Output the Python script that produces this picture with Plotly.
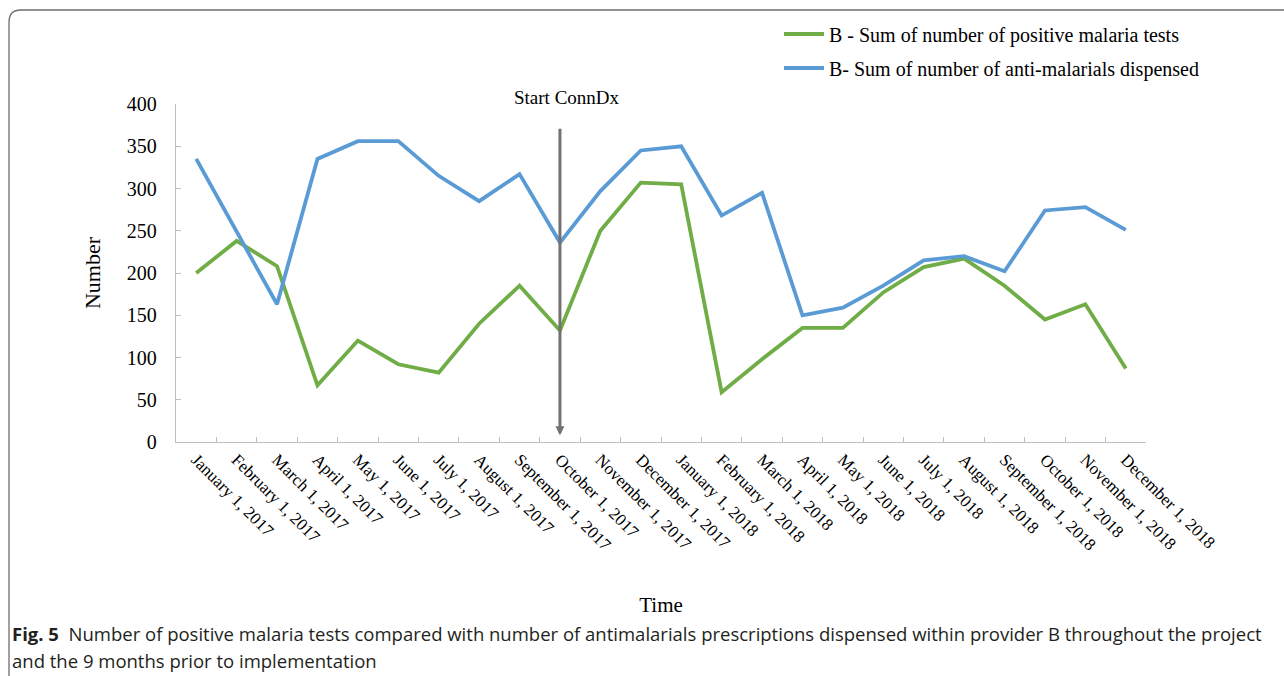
import plotly.graph_objects as go

categories = [
    "January 1, 2017", "February 1, 2017", "March 1, 2017", "April 1, 2017",
    "May 1, 2017", "June 1, 2017", "July 1, 2017", "August 1, 2017",
    "September 1, 2017", "October 1, 2017", "November 1, 2017", "December 1, 2017",
    "January 1, 2018", "February 1, 2018", "March 1, 2018", "April 1, 2018",
    "May 1, 2018", "June 1, 2018", "July 1, 2018", "August 1, 2018",
    "September 1, 2018", "October 1, 2018", "November 1, 2018", "December 1, 2018",
]
positive_tests = [200, 238, 208, 67, 120, 92, 82, 140, 185, 132, 250, 307,
                  305, 59, 98, 135, 135, 177, 207, 217, 185, 145, 163, 87]
antimalarials = [335, 249, 163, 335, 356, 356, 315, 285, 317, 236, 297, 345,
                 350, 268, 295, 150, 159, 185, 215, 220, 202, 274, 278, 251]
y_ticks = [0, 50, 100, 150, 200, 250, 300, 350, 400]
start_label = "Start ConnDx"
start_month = "October 1, 2017"

W, H = 1284, 676
L, R, T, B = 176, 1146, 104, 442


def px_x(p):
    return (p - L) / (R - L)


def px_y(p):
    return (B - p) / (B - T)


serif = "Liberation Serif, Times New Roman, serif"
sans = "Open Sans, Noto Sans, sans-serif"
GREEN = "#70AD47"
BLUE = "#5B9BD5"
AXIS = "#BFBFBF"

fig = go.Figure()
fig.add_trace(go.Scatter(
    x=categories, y=positive_tests, mode="lines",
    name="B - Sum of number of positive malaria tests",
    line=dict(color=GREEN, width=3.8), legend="legend",
))
fig.add_trace(go.Scatter(
    x=categories, y=antimalarials, mode="lines",
    name="B- Sum of number of anti-malarials dispensed",
    line=dict(color=BLUE, width=3.8), legend="legend2",
))

# Start ConnDx marker line (arrow pointing down)
fig.add_annotation(
    x=start_month, y=8, xref="x", yref="y",
    ax=0, ay=-(435 - 127), axref="pixel", ayref="pixel",
    showarrow=True, arrowhead=2, arrowsize=0.6, arrowwidth=3,
    arrowcolor="#767171", text="",
)
fig.add_annotation(
    x=start_month, y=px_y(98), xref="x", yref="paper", yanchor="middle",
    text=start_label, showarrow=False, xshift=7,
    font=dict(family=serif, size=19, color="#000000"),
)

# Caption
cap_font = dict(family=sans, size=18.5, color="#231F20")
fig.add_annotation(
    x=px_x(10), y=px_y(633), xref="paper", yref="paper",
    xanchor="left", yanchor="middle", showarrow=False, align="left",
    text="<b>Fig. 5</b>  Number of positive malaria tests compared with number of antimalarials prescriptions dispensed within provider B throughout the project",
    font=cap_font,
)
fig.add_annotation(
    x=px_x(10), y=px_y(660), xref="paper", yref="paper",
    xanchor="left", yanchor="middle", showarrow=False, align="left",
    text="and the 9 months prior to implementation",
    font=cap_font,
)

# Outer rounded frame
r = 12
fig.add_shape(
    type="path", xref="paper", yref="paper",
    path=(f"M {px_x(9)},{px_y(700)} L {px_x(9)},{px_y(10 + r)} "
          f"Q {px_x(9)},{px_y(10)} {px_x(9 + r)},{px_y(10)} L {px_x(1300)},{px_y(10)}"),
    line=dict(color="#6E6E6E", width=1.3),
)

legend_font = dict(family=serif, size=20, color="#000000")
fig.update_layout(
    width=W, height=H,
    margin=dict(l=L, r=W - R, t=T, b=H - B),
    paper_bgcolor="white", plot_bgcolor="white",
    showlegend=True,
    legend=dict(
        x=px_x(779), y=px_y(34), xanchor="left", yanchor="middle",
        font=legend_font, bgcolor="rgba(0,0,0,0)", itemwidth=40,
    ),
    legend2=dict(
        x=px_x(779), y=px_y(68), xanchor="left", yanchor="middle",
        font=legend_font, bgcolor="rgba(0,0,0,0)", itemwidth=40,
    ),
    xaxis=dict(
        type="category", categoryorder="array", categoryarray=categories,
        range=[-0.5, len(categories) - 0.5],
        showline=True, linecolor=AXIS, linewidth=1.3,
        ticks="inside", ticklen=5, tickcolor=AXIS, tickson="boundaries",
        tickangle=45, showgrid=False, zeroline=False,
        tickfont=dict(family=serif, size=17, color="#000000"),
        title=dict(text="Time", font=dict(family=serif, size=21, color="#000000"), standoff=43),
        automargin=False,
    ),
    yaxis=dict(
        range=[0, 400], tickvals=y_ticks,
        showline=True, linecolor=AXIS, linewidth=1.3,
        ticks="inside", ticklen=5, tickcolor=AXIS, ticklabelstandoff=14,
        showgrid=False, zeroline=False,
        tickfont=dict(family=serif, size=20, color="#000000"),
        title=dict(text="Number", font=dict(family=serif, size=22, color="#000000"), standoff=20),
        automargin=False,
    ),
)

fig.write_html(
    "out.html",
    config={"displayModeBar": False},
    post_script="document.body.style.margin='0';document.body.style.overflow='hidden';",
)
